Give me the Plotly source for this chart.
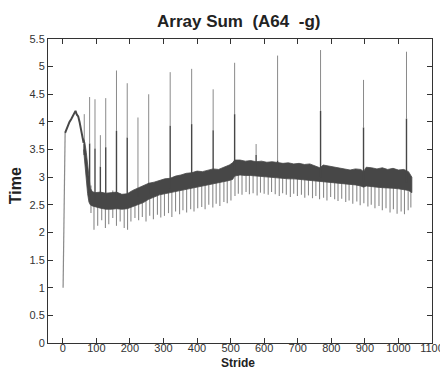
import plotly.graph_objects as go

# ---- data ----
rise_x = [1, 2, 3, 5, 7]
rise_y = [1.0, 1.4, 2.4, 3.4, 3.8]
early_x = [7, 10, 15, 20, 25, 30, 35, 38, 42, 46, 50, 54, 58, 62]
early_y = [3.8, 3.85, 3.95, 4.0, 4.05, 4.1, 4.15, 4.2, 4.13, 4.1, 4.0, 3.85, 3.72, 3.62]

env_x = [62, 66, 70, 74, 78, 82, 88, 96, 112, 128, 144, 160, 176, 192, 208, 224, 240,
         256, 272, 288, 304, 320, 336, 352, 368, 384, 400, 416, 432, 448, 464, 480, 496,
         506, 512, 528, 544, 560, 576, 592, 608, 624, 640, 656, 672, 688, 704, 720, 736,
         752, 766, 776, 792, 808, 824, 840, 856, 872, 888, 896, 904, 920, 936, 952, 968,
         984, 1000, 1016, 1030, 1040]
env_hi = [3.70, 3.62, 3.45, 3.25, 3.00, 2.80, 2.74, 2.72, 2.73, 2.71, 2.72, 2.73, 2.69, 2.70, 2.76, 2.80, 2.85,
          2.89, 2.91, 2.94, 2.97, 2.98, 3.02, 3.04, 3.07, 3.08, 3.11, 3.10, 3.13, 3.15, 3.14, 3.18, 3.22,
          3.26, 3.31, 3.31, 3.29, 3.30, 3.28, 3.29, 3.27, 3.28, 3.26, 3.25, 3.26, 3.24, 3.25, 3.23, 3.24,
          3.21, 3.17, 3.22, 3.20, 3.18, 3.17, 3.15, 3.13, 3.15, 3.14, 3.10, 3.18, 3.17, 3.15, 3.17, 3.14,
          3.16, 3.13, 3.14, 3.10, 3.00]
env_lo = [3.50, 3.30, 3.00, 2.70, 2.55, 2.50, 2.48, 2.46, 2.44, 2.42, 2.42, 2.43, 2.42, 2.43, 2.47, 2.50, 2.54,
          2.60, 2.64, 2.68, 2.70, 2.72, 2.74, 2.76, 2.78, 2.81, 2.83, 2.85, 2.87, 2.89, 2.90, 2.92, 2.94,
          2.96, 3.02, 3.04, 3.03, 3.03, 3.02, 3.02, 3.01, 3.00, 2.99, 2.98, 2.97, 2.97, 2.96, 2.96, 2.95,
          2.94, 2.92, 2.92, 2.91, 2.90, 2.89, 2.88, 2.87, 2.86, 2.84, 2.82, 2.84, 2.83, 2.82, 2.81, 2.80,
          2.80, 2.79, 2.78, 2.76, 2.72]

dip_x = [84, 93, 104, 116, 127, 137, 149, 160, 171, 183,
         193, 203, 215, 226, 237, 248, 259, 270, 282, 292,
         303, 315, 325, 336, 348, 358, 369, 381, 391, 402,
         414, 424, 435, 447, 457, 468, 480, 490, 501, 513,
         523, 534, 546, 556, 567, 579, 589, 600, 612, 622,
         633, 645, 655, 666, 678, 688, 699, 711, 721, 732,
         744, 754, 765, 777, 787, 798, 810, 820, 831, 843,
         853, 864, 876, 886, 897, 909, 919, 930, 942, 952,
         963, 975, 985, 996, 1008, 1018, 1029, 1037]
dip_y = [2.35, 2.05, 2.12, 2.22, 2.08, 2.15, 2.26, 2.12, 2.20, 2.08,
         2.05, 2.20, 2.26, 2.22, 2.28, 2.20, 2.30, 2.24, 2.32, 2.27,
         2.30, 2.35, 2.28, 2.38, 2.33, 2.40, 2.36, 2.42, 2.38, 2.44,
         2.46, 2.42, 2.50, 2.45, 2.52, 2.48, 2.55, 2.53, 2.58, 2.66,
         2.70, 2.68, 2.73, 2.69, 2.71, 2.67, 2.72, 2.70, 2.68, 2.73,
         2.69, 2.66, 2.71, 2.68, 2.64, 2.70, 2.66, 2.68, 2.63, 2.67,
         2.62, 2.66, 2.60, 2.63, 2.58, 2.64, 2.60, 2.57, 2.61, 2.55,
         2.58, 2.52, 2.56, 2.49, 2.53, 2.47, 2.50, 2.44, 2.48, 2.40,
         2.44, 2.36, 2.42, 2.34, 2.38, 2.33, 2.40, 2.45]

spike_x = [64, 80, 96, 112, 128, 160, 192, 224, 256, 320, 384, 448, 512, 576, 640, 768, 896, 1024]
spike_base = [3.40, 2.60, 2.60, 2.60, 2.60, 2.60, 2.60, 2.65, 2.70, 2.80, 2.90, 2.95, 3.10, 3.10, 3.10, 3.00, 2.90, 2.90]
spike_mid = [3.60, 3.61, 3.52, 3.19, 3.54, 3.84, 3.72, 2.75, 2.90, 3.93, 3.96, 3.85, 4.14, 3.40, 3.30, 4.20, 3.90, 4.06]
spike_top = [4.14, 4.45, 4.41, 3.76, 4.43, 4.93, 4.70, 4.08, 4.50, 4.90, 4.96, 4.59, 5.07, 3.60, 5.20, 5.30, 4.76, 5.27]

x_ticks = [0, 100, 200, 300, 400, 500, 600, 700, 800, 900, 1000, 1100]
y_ticks = [0, 0.5, 1, 1.5, 2, 2.5, 3, 3.5, 4, 4.5, 5, 5.5]
y_tick_text = ["0", "0.5", "1", "1.5", "2", "2.5", "3", "3.5", "4", "4.5", "5", "5.5"]

DARK = "#474747"
LIGHT = "#8a8a8a"
FONT = "Liberation Sans, Arial"

# ---- build traces ----
dx, dy = [], []
for x, y in zip(dip_x, dip_y):
    dx += [x, x, None]
    dy += [y, y + 0.5, None]

lx, ly, kx, ky = [], [], [], []
for x, b, m, t in zip(spike_x, spike_base, spike_mid, spike_top):
    kx += [x, x, None]
    ky += [b, m, None]
    lx += [x, x, None]
    ly += [m, t, None]

fig = go.Figure()
fig.add_trace(go.Scatter(x=dx, y=dy, mode="lines", line=dict(color=LIGHT, width=1.1), hoverinfo="skip"))
fig.add_trace(go.Scatter(x=lx, y=ly, mode="lines", line=dict(color=LIGHT, width=1), hoverinfo="skip"))
fig.add_trace(go.Scatter(x=env_x + env_x[::-1], y=env_hi + env_lo[::-1], mode="lines",
                         fill="toself", fillcolor=DARK, line=dict(color=DARK, width=0.8), hoverinfo="skip"))
fig.add_trace(go.Scatter(x=kx, y=ky, mode="lines", line=dict(color=DARK, width=1.4), hoverinfo="skip"))
fig.add_trace(go.Scatter(x=rise_x, y=rise_y, mode="lines", line=dict(color=LIGHT, width=1.2), hoverinfo="skip"))
fig.add_trace(go.Scatter(x=early_x, y=early_y, mode="lines", line=dict(color=DARK, width=2), hoverinfo="skip"))

axis_common = dict(showline=True, linecolor="#333", linewidth=1, mirror="ticks", ticks="inside",
                   ticklen=5, tickcolor="#333", showgrid=False, zeroline=False,
                   tickfont=dict(family=FONT, size=11, color="#333"))

# the page body has an 8px default margin, so the figure margins are reduced by 8px
fig.update_layout(
    width=448, height=371,
    margin=dict(l=40, r=21, t=31, b=36),
    paper_bgcolor="white", plot_bgcolor="white",
    showlegend=False,
    xaxis=dict(range=[-44, 1100], tickvals=x_ticks, ticklabelstandoff=-5, **axis_common),
    yaxis=dict(range=[0, 5.5], tickvals=y_ticks, ticktext=y_tick_text, **axis_common),
    annotations=[
        dict(text="<b>Array Sum  (A64  -g)</b>", xref="paper", yref="paper", x=0.496, y=(343 - 22) / 304,
             showarrow=False, xanchor="center", yanchor="middle",
             font=dict(family=FONT, size=17, color="#222")),
        dict(text="<b>Time</b>", xref="paper", yref="paper", x=-0.084, y=0.518, textangle=-90,
             showarrow=False, xanchor="center", yanchor="middle",
             font=dict(family=FONT, size=16, color="#222")),
        dict(text="<b>Stride</b>", xref="paper", yref="paper", x=0.496, y=-0.0915,
             showarrow=False, xanchor="center", yanchor="bottom", borderpad=0,
             font=dict(family=FONT, size=12, color="#222")),
    ],
)

fig.write_html("out.html", config={"displayModeBar": False})
